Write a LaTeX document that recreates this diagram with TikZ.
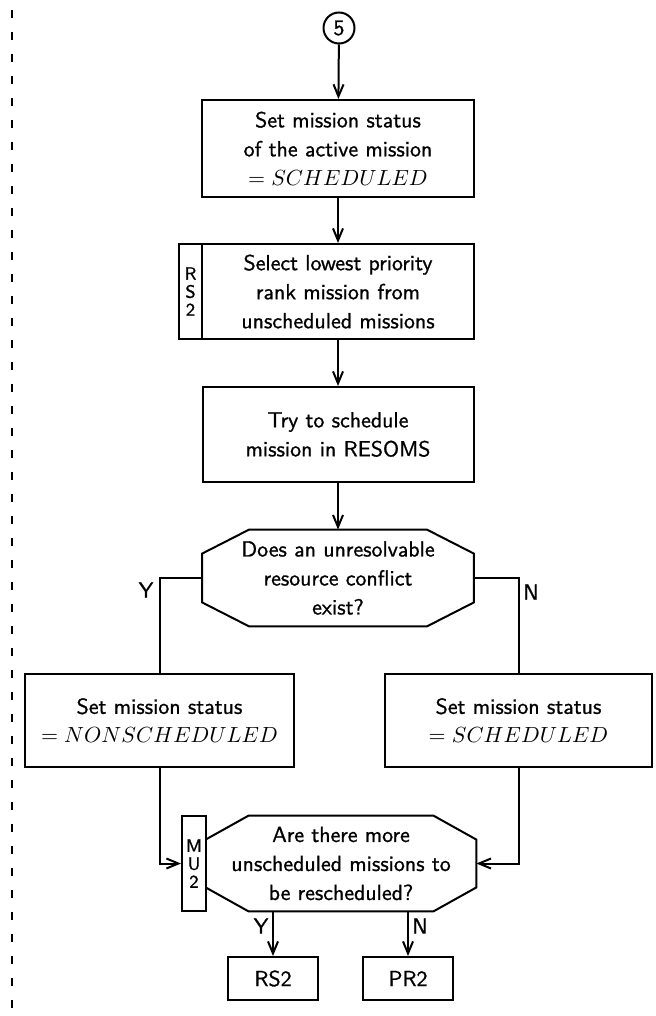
\documentclass[tikz,border=0pt]{standalone}
\usepackage{fontspec}
\setsansfont{Latin Modern Sans}[FakeBold=1]
\usetikzlibrary{arrows.meta,calc}

% chamfered decision box drawn round a named (invisible) node
\newcommand\octagonframe[3]{%
  \draw[ln] ($(#1.north west)+(#2,0)$) -- ($(#1.north east)+(-#2,0)$)
    -- ($(#1.north east)+(0,#3)$) -- ($(#1.south east)+(0,-#3)$)
    -- ($(#1.south east)+(-#2,0)$) -- ($(#1.south west)+(#2,0)$)
    -- ($(#1.south west)+(0,-#3)$) -- ($(#1.north west)+(0,#3)$) -- cycle;}

\begin{document}
\begin{tikzpicture}[x=0.5pt,y=-0.5pt,
  every node/.style={font=\sffamily\fontsize{10.95}{14.5}\selectfont},
  ln/.style={line width=1pt},
  arr/.style={ln,-{Straight Barb[length=6pt,width=5pt]}},
  proc/.style={draw,ln,align=center,inner sep=0pt},
  decide/.style={align=center,inner sep=0pt},
  strip/.style={draw,ln,fill=white,align=center,inner sep=0pt,
    font=\sffamily\fontsize{9}{9}\selectfont},
  circ/.style={draw,ln,circle,inner sep=0pt,minimum size=15.5pt},
  lbl/.style={inner sep=0pt}
]
\useasboundingbox (0,0) rectangle (655,1016);

% dashed margin rule
\coordinate (mtop) at (12,10);
\coordinate (mbot) at (12,1012);
\draw[line width=1pt,dash pattern=on 4pt off 7pt] (mtop) -- (mbot);

% connector
\node[circ] (c5) at (339,28) {5};

% process steps
\node[proc,minimum width=136pt,minimum height=48.5pt] (b1) at (338,148.5)
  {Set mission status\\of the active mission\\$= SCHEDULED$};
\node[proc,minimum width=136pt,minimum height=47.5pt] (b2) at (338,291.5)
  {Select lowest priority\\rank mission from\\unscheduled missions};
\node[strip,minimum width=11.5pt,minimum height=47.5pt] (rs) at (190.5,291.5)
  {R\\S\\2};
\node[proc,minimum width=135.5pt,minimum height=47.5pt] (b3) at (338,434.5)
  {Try to schedule\\mission in RESOMS};

% first decision
\node[decide,minimum width=135.5pt,minimum height=48pt] (d1) at (338,578)
  {Does an unresolvable\\resource conflict\\exist?};
\octagonframe{d1}{47}{24}

% outcomes
\node[proc,minimum width=134.5pt,minimum height=46.5pt] (lb) at (159.5,720.5)
  {Set mission status\\$= NONSCHEDULED$};
\node[proc,minimum width=133.5pt,minimum height=46.5pt] (rb) at (518.5,720.5)
  {Set mission status\\$= SCHEDULED$};

% second decision
\node[decide,minimum width=135pt,minimum height=47.5pt] (d2) at (341,863.5)
  {Are there more\\unscheduled missions to\\be rescheduled?};
\octagonframe{d2}{43}{24}
\node[strip,minimum width=12pt,minimum height=47.5pt] (mu) at (194,863.5)
  {M\\U\\2};

% exits
\node[proc,minimum width=45pt,minimum height=21.5pt] (rs2) at (273,978.5) {RS2};
\node[proc,minimum width=45pt,minimum height=21.5pt] (pr2) at (408,978.5) {PR2};

% flow
\draw[arr] (c5) -- (b1);
\draw[arr] (b1) -- (b2);
\draw[arr] (b2) -- (b3);
\draw[arr] (b3) -- (d1);
\draw[ln] (d1.west) -| (lb.north);
\draw[ln] (d1.east) -| (rb.north);
\draw[arr] (lb.south) |- (mu.west);
\draw[arr] (rb.south) |- (d2.east);
\draw[arr] (d2.south -| rs2.north) -- (rs2.north);
\draw[arr] (d2.south -| pr2.north) -- (pr2.north);

% branch labels
\node[lbl] (y1) at (146,590) {Y};
\node[lbl] (n1) at (531,592) {N};
\node[lbl] (y2) at (261,926) {Y};
\node[lbl] (n2) at (420,926) {N};
\end{tikzpicture}
\end{document}
